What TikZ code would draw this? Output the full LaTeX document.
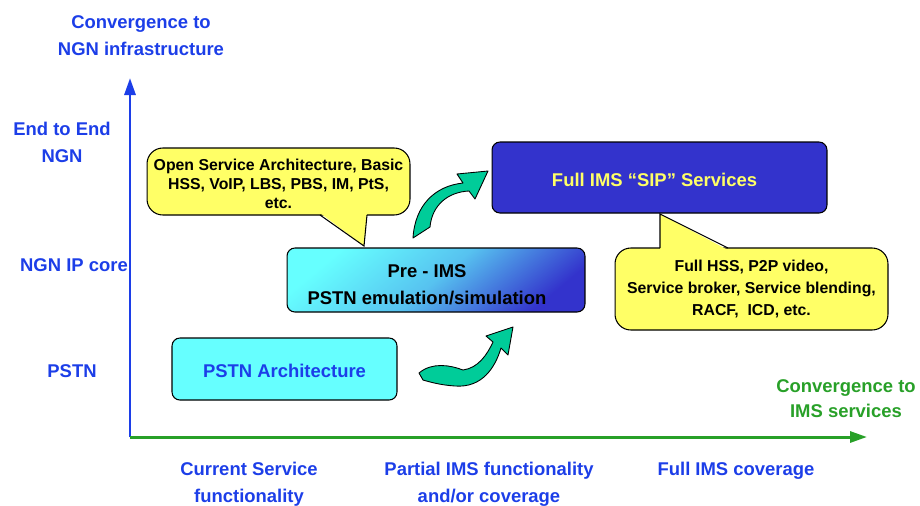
\documentclass[tikz,border=0pt]{standalone}
\usepackage{fontspec}
\setmainfont{Liberation Sans}
\usetikzlibrary{arrows.meta}

\definecolor{axisblue}{RGB}{28,62,232}
\definecolor{axisgreen}{RGB}{40,160,40}
\definecolor{noteyellow}{RGB}{255,255,102}
\definecolor{boxcyan}{RGB}{102,255,255}
\definecolor{boxblue}{RGB}{51,51,204}
\definecolor{turnteal}{RGB}{0,204,153}

% lowers the text of a box without changing its size
\newcommand\droptext[2]{\raisebox{-#1}[\height][\depth]{\begin{tabular}{@{}c@{}}#2\end{tabular}}}

\tikzset{
  lbl/.style={font=\bfseries\fontsize{10.5}{15.3}\selectfont, align=center},
  stage/.style={draw=black, line width=0.6pt, rounded corners=4.5pt, inner sep=0pt,
    font=\bfseries\fontsize{10.5}{15.3}\selectfont, align=center},
  note/.style={draw=black, line width=0.6pt, fill=noteyellow, rounded corners=9pt, inner sep=0pt,
    font=\bfseries\fontsize{9}{10.8}\selectfont, align=center},
  turn/.style={fill=turnteal, draw=black, line width=0.5pt, line join=round},
  axis/.style={line width=1.7pt, -{Triangle[length=0.34cm, width=0.22cm]}}
}

\begin{document}
\begin{tikzpicture}[x=0.02cm, y=-0.02cm]
\useasboundingbox (0,0) rectangle (920,505);

% Axes
\coordinate (origin) at (130,437);
\coordinate (ytop) at (130,78);
\coordinate (xend) at (867,437);
\draw[axis, axisblue] (origin) -- (ytop);
\draw[axis, axisgreen] (origin) -- (xend);

% Axis titles
\node[lbl, axisblue] (ytitle) at (141,36) {Convergence to\\NGN infrastructure};
\node[lbl, axisgreen, font=\bfseries\fontsize{10.5}{14.2}\selectfont] (xtitle) at (846,399) {Convergence to\\IMS services};

% Levels on the vertical axis
\node[lbl, axisblue] (endtoend) at (62,142) {End to End\\NGN};
\node[lbl, axisblue] (ipcore) at (74,265) {NGN IP core};
\node[lbl, axisblue] (pstnlvl) at (72,371) {PSTN};

% Levels on the horizontal axis
\node[lbl, axisblue] (current) at (249,484.5) {Current Service\\functionality};
\node[lbl, axisblue] (partial) at (489,484.5) {Partial IMS functionality\\and/or coverage};
\node[lbl, axisblue] (fullcov) at (736,471) {Full IMS coverage};

% Stages
\node[stage, fill=boxcyan, text=axisblue, minimum width=4.5cm, minimum height=1.24cm] (pstn) at (284.5,369)
  {\droptext{1.7pt}{PSTN Architecture}};
\node[stage, top color=boxcyan, bottom color=boxblue, middle color=boxcyan!70!boxblue, shading angle=40,
  minimum width=5.96cm, minimum height=1.28cm] (preims) at (436,280)
  {\droptext{3.4pt}{Pre - IMS\\PSTN emulation/simulation}\hspace{0.36cm}};
\node[stage, fill=boxblue, text=noteyellow, minimum width=6.7cm, minimum height=1.42cm] (fullims) at (659.5,177.5)
  {\droptext{2.3pt}{Full IMS ``SIP'' Services}\hspace{0.2cm}};

% Callouts
\node[note, minimum width=5.26cm, minimum height=1.34cm] (basicnote) at (278.5,181.5)
  {\droptext{2.3pt}{Open Service Architecture, Basic\\HSS, VoIP, LBS, PBS, IM, PtS,\\etc.}};
\fill[noteyellow] (320,213) -- (364,246) -- (367,213) -- cycle;
\draw[line width=0.6pt] (320,215) -- (364,246) -- (367,215);

\node[note, font=\bfseries\fontsize{9}{12.5}\selectfont, minimum width=5.46cm, minimum height=1.64cm] (fullnote) at (751.5,289)
  {Full HSS, P2P video,\\Service broker, Service blending,\\RACF,~ ICD, etc.};
\fill[noteyellow] (660,250) -- (660,214) -- (728,250) -- cycle;
\draw[line width=0.6pt] (660,248) -- (660,214) -- (728,248);

% Curved arrows between stages
\draw[turn] (413,238) .. controls (415,205) and (435,186) .. (463,183) -- (457,174) -- (488,171)
  -- (475,199) -- (469,191) .. controls (448,192) and (432,205) .. (430,227) -- cycle;
\draw[turn] (419,373) .. controls (432,362) and (450,365) .. (463,370) .. controls (478,368) and (487,355) .. (493,342)
  -- (486,336) -- (513,327) -- (508,355) -- (501,348) .. controls (495,368) and (482,388) .. (455,386)
  .. controls (440,385) and (430,382) .. (423,380) -- cycle;

\end{tikzpicture}
\end{document}
